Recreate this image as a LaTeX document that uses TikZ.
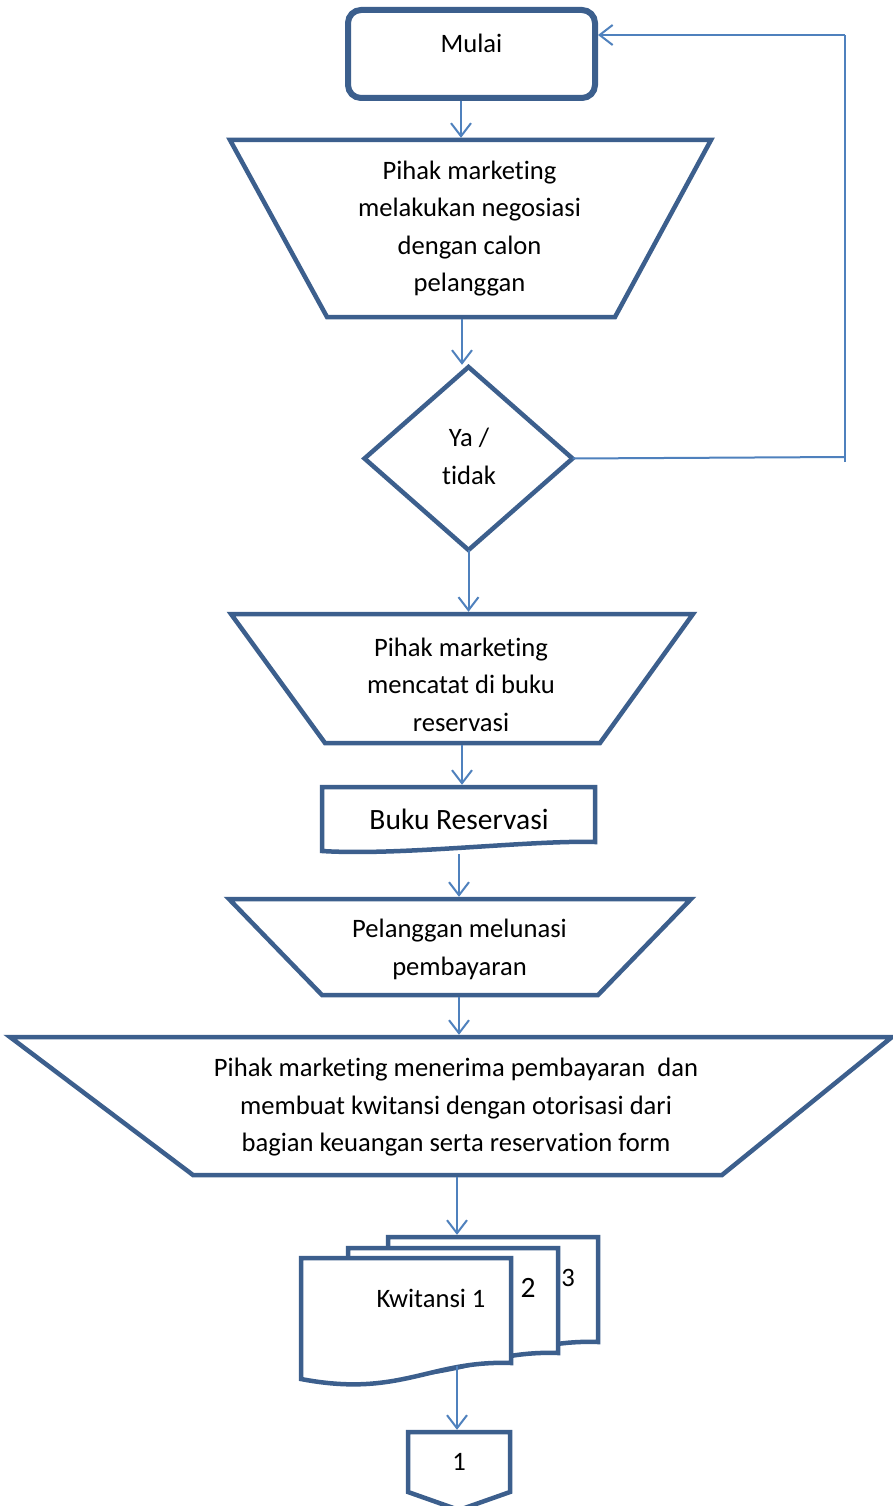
\documentclass[tikz,border=0pt]{standalone}
\usepackage{fontspec}
\setmainfont{Carlito}[Ligatures=NoCommon]
\usetikzlibrary{arrows.meta,calc}
\definecolor{shapeblue}{HTML}{3C5F8D}
\definecolor{flowblue}{HTML}{4F81BD}
\begin{document}
\begin{tikzpicture}[x=1pt,y=-1pt,
  outline/.style={draw=shapeblue, line width=4.5pt, line join=miter},
  area/.style={inner sep=0pt, outer sep=0pt, minimum width=#1},
  flow/.style={draw=flowblue, line width=2pt,
    -{Straight Barb[length=13pt,width=20pt,line width=2pt]},
    shorten >=2.2pt, shorten <=2.2pt},
  loopline/.style={draw=flowblue, line width=2pt},
  txt/.style={font=\fontsize{26.6}{37.5}\selectfont, align=center, inner sep=0pt},
  bigtxt/.style={font=\fontsize{29.5}{36}\selectfont, align=center, inner sep=0pt}]
\useasboundingbox (0,0) rectangle (893,1506);
\fill[white] (0,0) rectangle (893,1506);

% start terminal
\node[draw=shapeblue, line width=6pt, rounded corners=13pt, inner sep=0pt,
      minimum width=247pt, minimum height=88pt] (mulai) at (471.5,54) {};
\node[txt] (mulaiT) at (471.5,43) {Mulai};

% negotiation step
\node[area=481pt, minimum height=177pt] (nego) at (470.5,228.5) {};
\draw[outline] (nego.north west) -- (nego.north east)
  -- ($(nego.south east)+(-96,0)$) -- ($(nego.south west)+(97,0)$) -- cycle;
\node[txt] (negoT) at (469.5,228.5) {Pihak marketing\\melakukan negosiasi\\dengan calon\\pelanggan};

% decision
\node[area=208pt, minimum height=183pt] (dia) at (468.5,458.5) {};
\draw[outline] (dia.north) -- (dia.east) -- (dia.south) -- (dia.west) -- cycle;
\node[txt] (diaT) at (469,456.5) {Ya /\\tidak};

% recording step
\node[area=462pt, minimum height=129pt] (catat) at (462,678.5) {};
\draw[outline] (catat.north west) -- (catat.north east)
  -- ($(catat.south east)+(-93,0)$) -- ($(catat.south west)+(94,0)$) -- cycle;
\node[txt] (catatT) at (461,684.5) {Pihak marketing\\mencatat di buku\\reservasi};

% reservation book document
\node[area=273pt, minimum height=64pt] (buku) at (458.5,819) {};
\draw[outline] (buku.north west) -- (buku.north east) -- ($(buku.south east)+(0,-9)$)
  .. controls ($(buku.south east)+(-65,-11)$) and ($(buku.south west)+(78,5)$) .. (buku.south west)
  -- cycle;
\node[bigtxt] (bukuT) at (459,819) {Buku Reservasi};

% payment step
\node[area=462pt, minimum height=96pt] (lunas) at (460,947) {};
\draw[outline] (lunas.north west) -- (lunas.north east)
  -- ($(lunas.south east)+(-93,0)$) -- ($(lunas.south west)+(93,0)$) -- cycle;
\node[txt] (lunasT) at (459.5,949.5) {Pelanggan melunasi\\pembayaran};

% receipt step
\node[area=882pt, minimum height=138pt] (terima) at (451,1106) {};
\draw[outline] (terima.north west) -- (terima.north east)
  -- ($(terima.south east)+(-170,0)$) -- ($(terima.south west)+(183,0)$) -- cycle;
\node[txt] (terimaT) at (456,1107.5) {Pihak marketing menerima pembayaran\ \ dan\\membuat kwitansi dengan otorisasi dari\\bagian keuangan serta reservation form};

% receipt copies, back to front
\node[area=210pt, minimum height=121pt, anchor=north west] (kw3) at (388,1237) {};
\node[area=210pt, minimum height=121pt, anchor=north west] (kw2) at (348,1248) {};
\node[area=210pt, minimum height=121pt, anchor=north west] (kw1) at (301,1258) {};
\foreach \d in {kw3,kw2,kw1}{
  \draw[outline, fill=white] (\d.north west) -- ++(210,0) -- ++(0,105)
    .. controls +(-81,-3) and +(99,19) .. ++(-210,16) -- cycle;
}
\node[txt] (kw3T) at (568,1278) {3};
\node[bigtxt] (kw2T) at (528,1288) {2};
\node[txt] (kw1T) at (431,1298) {Kwitansi 1};
\coordinate (kwout) at (457,1366);

% off-page connector
\node[area=102pt, minimum height=78pt] (kon) at (459,1471) {};
\draw[outline] (kon.north west) -- (kon.north east) -- ($(kon.south east)+(0,-18)$)
  -- (kon.south) -- ($(kon.south west)+(0,-18)$) -- cycle;
\node[txt] (konT) at (459,1462) {1};

% connectors
\coordinate (xa) at (461,0);
\coordinate (xb) at (462,0);
\coordinate (xd) at (459,0);
\coordinate (xe) at (457,0);
\draw[flow, shorten <=0pt] (xa |- mulai.south) -- (xa |- nego.north);
\draw[flow] (xb |- nego.south) -- (xb |- dia.north);
\draw[flow, shorten <=0pt] (dia.south) -- (dia.south |- catat.north);
\draw[flow] (xb |- catat.south) -- (xb |- buku.north);
\draw[flow] (xd |- 0,852) -- (xd |- lunas.north);
\draw[flow] (xd |- lunas.south) -- (xd |- terima.north);
\draw[flow] (xe |- terima.south) -- (xe |- kw3.north);
\draw[flow, shorten <=0pt] (kwout) -- (xe |- kon.north);

% loop back from the decision to the start
\coordinate (loopB) at (845,457);
\coordinate (loopE) at (845,462);
\coordinate (loopT) at (845,35);
\draw[loopline] (dia.east) -- (loopB);
\draw[loopline] (loopE) -- (loopT);
\draw[flow, shorten <=0pt, shorten >=0pt] (loopT) -- (mulai.east |- loopT);
\end{tikzpicture}
\end{document}
